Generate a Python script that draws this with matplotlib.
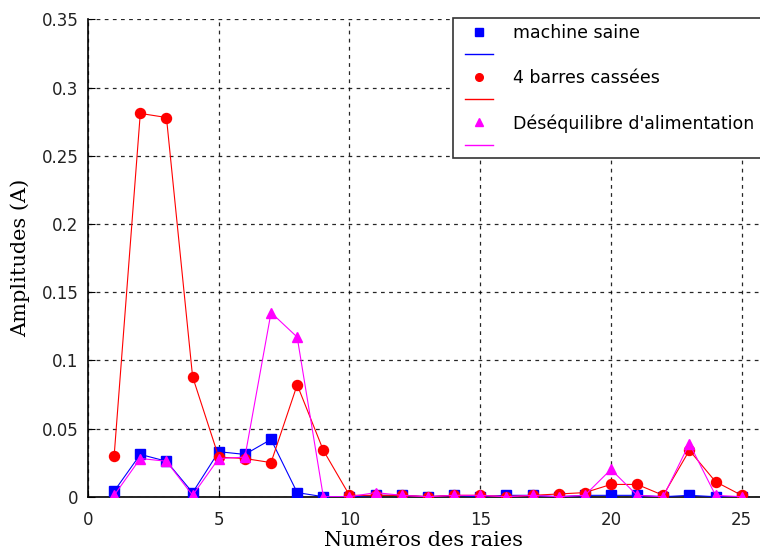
import matplotlib
matplotlib.use("Agg")
import matplotlib.pyplot as plt
from matplotlib.lines import Line2D
from matplotlib.patches import Rectangle

# Harmonic line numbers and measured amplitudes (A)
raies = list(range(1, 26))
machine_saine = [0.004, 0.031, 0.026, 0.003, 0.033, 0.031, 0.042, 0.003, 0.0, 0.0,
                 0.001, 0.001, 0.0, 0.001, 0.0, 0.001, 0.001, 0.0, 0.001, 0.001,
                 0.001, 0.0, 0.001, 0.0, 0.0]
barres_cassees = [0.030, 0.281, 0.278, 0.088, 0.029, 0.028, 0.025, 0.082, 0.034, 0.001,
                  0.001, 0.001, 0.0, 0.001, 0.001, 0.0, 0.001, 0.002, 0.003, 0.009,
                  0.009, 0.001, 0.034, 0.011, 0.001]
desequilibre = [0.001, 0.028, 0.026, 0.001, 0.028, 0.029, 0.135, 0.117, 0.0, 0.0,
                0.003, 0.001, 0.0, 0.001, 0.001, 0.0, 0.001, 0.0, 0.001, 0.020,
                0.001, 0.0, 0.039, 0.001, 0.0]

series_labels = ["machine saine", "4 barres cassées", "Déséquilibre d'alimentation"]
x_ticks = [0, 5, 10, 15, 20, 25]
y_ticks = [0, 0.05, 0.1, 0.15, 0.2, 0.25, 0.3, 0.35]
y_tick_labels = ["0", "0.05", "0.1", "0.15", "0.2", "0.25", "0.3", "0.35"]

W, H = 760, 553
fig = plt.figure(figsize=(W / 100, H / 100), dpi=100)
left, right, bottom, top = 88, 760, 496.7, 19.3
ax = fig.add_axes([left / W, 1 - bottom / H, (right - left) / W, (bottom - top) / H])

BLUE, RED, MAGENTA = "#0000ff", "#ff0000", "#ff00ff"
styles = [(BLUE, "s", 7.2), (RED, "o", 7.2), (MAGENTA, "^", 7.5)]
series = [machine_saine, barres_cassees, desequilibre]
handles = []
labels = []
for vals, (c, m, ms), lab in zip(series, styles, series_labels):
    ax.plot(raies, vals, color=c, linewidth=0.8, marker=m, markersize=ms,
            markerfacecolor=c, markeredgecolor=c, zorder=3)
    handles.append(Line2D([], [], linestyle="none", marker=m, color=c, markersize=5.5))
    labels.append(lab)
    handles.append(Line2D([], [], color=c, linewidth=1.0))
    labels.append("")

ax.set_xlim(0, 25.7)
ax.set_ylim(0, 0.35)
ax.set_xticks(x_ticks)
ax.set_yticks(y_ticks)
ax.set_yticklabels(y_tick_labels)

ax.grid(True, color="black", linestyle=(0, (3, 3.5)), linewidth=0.9, alpha=0.85)
ax.set_axisbelow(True)
for s in ("top", "right"):
    ax.spines[s].set_visible(False)
for s in ("left", "bottom"):
    ax.spines[s].set_linewidth(1.2)
    ax.spines[s].set_zorder(2)

ax.tick_params(direction="in", length=5, width=0.8, labelsize=12, colors="black")
ax.tick_params(axis="y", pad=7)
ax.tick_params(axis="x", pad=10)
for lbl in ax.get_xticklabels() + ax.get_yticklabels():
    lbl.set_color("#222222")

ax.set_xlabel("Numéros des raies", family="DejaVu Serif", fontsize=15, labelpad=2)
ax.set_ylabel("Amplitudes (A)", family="DejaVu Serif", fontsize=15, labelpad=8)

# Legend box runs off the right edge of the figure
box = Rectangle((453 / W, 1 - 158 / H), (800 - 453) / W, (158 - 18) / H,
                transform=fig.transFigure, facecolor="white", edgecolor="#333333",
                linewidth=1.2, clip_on=False, zorder=4)
fig.add_artist(box)

leg = fig.legend(handles, labels, loc="upper left",
                 bbox_to_anchor=(465 / W, 1 - 24 / H), bbox_transform=fig.transFigure,
                 fontsize=12.5, frameon=False, borderpad=0, labelspacing=0.26,
                 handlelength=1.6, handletextpad=1.15, borderaxespad=0)
leg.set_zorder(5)

fig.savefig("out.png", dpi=100)
